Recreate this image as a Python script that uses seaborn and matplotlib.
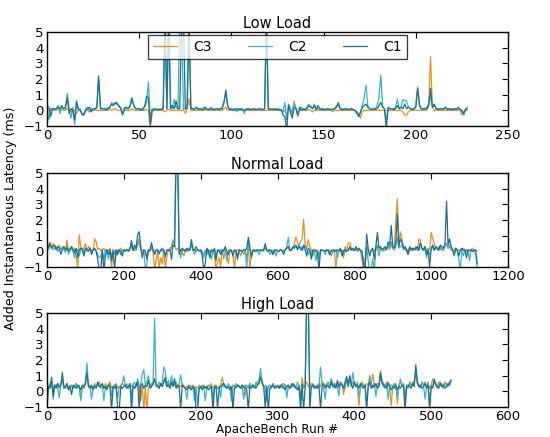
import numpy as np
import pandas as pd
import matplotlib
matplotlib.use("Agg")
import matplotlib.pyplot as plt
import seaborn as sns

# ---------------- data ----------------
series_names = ["C3", "C2", "C1"]
colors = {"C3": "#E8901E", "C2": "#3AB2CC", "C1": "#1B6F8C"}

# Low load: run # 0..228
low_x = list(range(229))
low_c1 = [0.3, 0.2, -0.4, 0.1, 0.1, 0.1, 0.2, 0.1, 0.3, 0.1,
          0.2, 0.8, -0.2, 0.1, 0.0, -0.6, 0.6, 0.1, 0.0, -0.2,
          -0.3, 0.0, 0.1, 0.2, -0.1, 0.1, 0.1, 0.2, 2.2, 0.1,
          0.1, 0.1, 0.0, 0.1, 0.2, 0.4, 0.3, 0.5, 0.4, 0.3,
          0.1, -0.3, 0.1, 0.2, 0.1, 0.3, 0.8, 0.3, 0.1, 0.1,
          0.1, 0.0, 0.1, 0.3, 0.9, 0.8, -0.9, 0.0, 0.05, 0.05,
          0.05, 0.05, 0.05, 0.1, 6.0, 0.1, 6.0, 0.1, 0.3, 0.1,
          0.6, 0.1, 0.1, 6.0, 6.0, 0.1, 0.1, 6.0, 0.1, 0.1,
          0.05, 0.2, 0.05, 0.1, 0.05, 0.05, 0.2, 0.05, 0.05, 0.1,
          0.05, 0.05, 0.1, 0.05, 0.1, 0.1, 0.5, 1.3, 0.3, 0.05,
          0.1, 0.0, 0.05, 0.1, 0.05, 0.1, 0.05, 0.0, 0.05, 0.1,
          0.05, 0.05, 0.1, 0.05, 0.05, 0.1, 0.05, 0.05, 0.1, 6.0,
          0.1, 0.05, 0.1, 0.05, 0.05, 0.1, 0.0, 0.05, -0.3, -0.4,
          -1.2, 0.3, -0.1, -0.5, 0.2, 0.1, -0.3, 0.2, 0.0, 0.1,
          0.05, 0.1, 0.3, 0.2, 0.1, 0.3, 0.05, 0.3, 0.1, 0.05,
          0.05, 0.05, 0.1, 0.05, 0.05, 0.05, 0.1, 0.2, 0.5, 0.1,
          0.05, 0.05, 0.1, 0.05, 0.05, 0.1, 0.05, 0.0, -0.2, -0.4,
          -0.1, 0.2, 0.3, 0.4, 0.2, 0.1, 0.05, 0.1, 0.05, 0.1,
          0.3, 0.5, 0.2, 0.1, -1.2, 0.2, 0.1, 0.1, 0.05, 0.1,
          0.3, 0.1, 0.2, 0.1, 0.4, 0.1, 0.2, 0.1, 0.05, 0.1,
          0.2, 1.4, 0.3, 0.1, 0.05, 0.1, 0.1, 0.3, 1.4, 0.2,
          0.4, 0.1, 0.1, 0.05, 0.1, 0.05, 0.2, 0.05, 0.1, 0.05,
          0.05, 0.1, 0.05, 0.2, 0.05, 0.0, -0.2, 0.05, 0.1]
low_c2 = [0.2, -0.6, 0.1, 0.1, 0.0, 0.1, 0.3, -0.2, 0.2, 0.1,
          0.1, 1.1, 0.1, -0.5, 0.2, -0.9, 0.4, 0.0, 0.1, -0.3,
          -0.2, 0.1, 0.2, -0.1, 0.1, 0.0, 0.1, 0.1, 2.0, 0.2,
          0.1, 0.1, 0.1, 0.2, 0.1, 0.5, 0.4, 0.4, 0.5, 0.2,
          0.2, -0.2, 0.2, 0.1, 0.1, 0.2, 0.6, 0.4, 0.1, 0.1,
          0.05, 0.1, 0.0, 0.2, 0.5, 1.8, -0.5, 0.1, 0.1, 0.1,
          0.05, 0.1, 0.05, 0.2, 6.0, 0.1, 6.0, 0.4, 0.1, 0.7,
          0.2, 0.1, 6.0, 6.0, 0.1, 0.1, 0.4, 6.0, 0.2, 0.1,
          0.1, 0.2, 0.1, 0.05, 0.1, 0.2, 0.1, 0.05, 0.1, 0.2,
          0.1, 0.05, 0.1, 0.1, 0.05, 0.2, 0.6, 1.1, 0.2, 0.1,
          0.05, 0.1, 0.1, -0.1, 0.1, 0.05, 0.1, -0.2, 0.1, 0.05,
          0.1, 0.05, 0.1, 0.1, 0.05, 0.1, 0.1, 0.05, 0.1, 6.0,
          0.1, 0.1, 0.05, 0.1, 0.1, 0.05, 0.1, 0.0, -0.1, 0.5,
          -0.6, 0.4, 0.1, -0.2, 0.4, 0.2, -0.4, 0.1, 0.2, 0.0,
          0.1, 0.2, 0.4, 0.3, 0.1, 0.4, 0.1, 0.1, 0.05, 0.1,
          0.1, 0.05, 0.1, 0.1, 0.05, 0.1, 0.1, 0.3, 0.3, 0.1,
          0.1, 0.05, 0.1, 0.1, 0.05, 0.1, 0.05, 0.0, -0.1, -0.3,
          -0.2, 0.3, 0.8, 1.6, 0.3, 0.1, 0.05, 0.1, 0.1, 0.3,
          0.8, 2.25, 0.3, 0.1, -0.6, 0.1, 0.1, 0.1, 0.1, 0.2,
          0.7, 0.1, 0.2, 0.7, 0.6, 0.6, 0.2, 0.1, 0.1, 0.05,
          0.3, 1.5, 0.4, 0.1, 0.1, 0.1, 0.2, 0.4, 0.9, 0.2,
          0.3, 0.1, 0.05, 0.1, 0.1, 0.1, 0.2, 0.1, 0.1, 0.1,
          0.1, 0.1, 0.05, 0.1, 0.1, -0.1, -0.3, 0.1, 0.2]
low_c3 = [0.0, 0.0, 0.1, 0.0, 0.05, 0.0, 0.1, 0.0, 0.05, 0.0,
          0.0, 0.1, 0.0, -0.1, 0.0, 0.0, -0.2, 0.0, 0.0, -0.3,
          -0.3, 0.0, 0.0, -0.1, 0.0, 0.0, 0.0, 0.0, 0.0, 0.0,
          0.0, 0.0, 0.0, 0.0, 0.1, 0.0, 0.05, 0.1, 0.0, 0.0,
          0.0, -0.2, 0.0, 0.0, 0.0, 0.0, 0.1, 0.0, 0.0, 0.0,
          0.0, 0.0, 0.0, 0.0, 0.05, 0.0, -1.2, -0.1, 0.0, 0.0,
          0.0, 0.0, 0.0, 0.0, -0.1, 0.0, 0.05, 0.0, 0.0, 0.0,
          0.0, 0.0, 0.0, 0.0, 0.05, -0.2, 0.1, 0.75, 0.0, 0.0,
          0.0, 0.0, 0.0, 0.0, 0.0, 0.0, 0.05, 0.0, 0.0, 0.0,
          0.0, 0.0, 0.0, 0.0, 0.0, 0.0, 0.1, 0.2, 0.0, 0.0,
          0.0, 0.0, 0.0, 0.0, 0.0, 0.0, 0.0, -0.05, 0.0, 0.0,
          0.0, 0.0, 0.0, 0.0, 0.0, 0.0, 0.0, 0.0, 0.0, 0.0,
          0.0, 0.0, 0.0, 0.0, 0.0, 0.0, 0.0, 0.0, -0.1, 0.0,
          -0.3, 0.2, 0.0, -0.1, 0.6, 0.1, -0.2, 0.0, 0.0, 0.0,
          0.0, 0.0, 0.05, 0.0, -0.1, 0.0, 0.0, 0.0, 0.0, 0.0,
          0.0, 0.0, 0.0, 0.0, 0.0, -0.1, 0.0, 0.0, 0.0, 0.0,
          0.0, 0.0, 0.0, 0.0, 0.0, 0.0, 0.0, 0.0, -0.1, -0.2,
          -0.5, -0.1, 0.0, 0.0, 0.0, 0.0, 0.0, 0.0, 0.0, 0.0,
          0.0, 0.0, 0.0, 0.0, 0.0, 0.0, 0.0, 0.0, 0.0, 0.0,
          0.0, 0.0, 0.0, -0.1, -0.3, -0.3, -0.1, 0.0, 0.0, 0.0,
          0.0, 0.0, 0.0, 0.0, 0.0, 0.0, 0.0, 0.3, 3.4, 0.2,
          0.0, 0.0, 0.0, 0.0, 0.0, 0.0, 0.0, 0.0, 0.0, 0.0,
          0.0, 0.0, 0.0, 0.0, 0.0, -0.3, -0.1, 0.0, 0.0]

# Normal load: run # 0..1120 (every 4th run)
normal_x = list(range(0, 1121, 4))
normal_c1 = [0.1, 0.3, 0.5, 0.2, 0.3, 0.4, 0.1, 0.3, 0.2, -0.2, 0.1, 0.3, 0.1, 0.2, 0.0, 0.1, 0.3, 0.1, -0.1, 0.2,
             -0.4, 0.1, 0.2, 0.1, -0.3, 0.2, 0.1, 0.0, 0.2, -0.2, 0.1, 0.2, 0.0, -0.5, -1.2, -1.2, 0.1, -1.2, -0.3, 0.1,
             -0.2, 0.1, -0.6, 0.0, -1.1, 0.1, -0.2, 0.1, 0.0, -0.3, 0.1, 0.05, 0.1, 0.0, 0.1, 0.7, 0.05, 0.4, 0.2, 1.1,
             1.25, 0.3, -0.4, 0.1, 0.0, -0.5, 0.1, 0.05, 0.55, 0.1, -0.2, 0.05, 0.1, -0.1, 0.05, 0.2, 0.05, -0.3, 0.1, 0.05,
             0.1, -0.5, 0.4, 0.3, 6.0, 6.0, -0.2, 0.05, 0.2, 0.1, 0.0, 0.2, 0.05, 0.1, 0.75, 0.1, 0.05, 0.3, 0.1, 0.05,
             0.05, -0.3, -1.1, -0.8, 0.2, 0.05, -0.4, 0.1, 0.0, 0.2, -0.6, 0.1, 0.05, -0.2, 0.1, 0.05, 0.3, 0.0, -0.2, 0.1,
             0.05, -0.3, 0.1, 0.05, -0.5, 0.1, 0.05, 0.0, 0.1, 0.05, 0.2, 0.9, 0.3, -0.4, 0.1, 0.05, 0.0, 0.1, 0.05, 0.1,
             0.05, 0.1, 0.5, 0.05, 0.0, 0.1, 0.05, -0.2, 0.05, 0.1, 0.05, 0.0, 0.1, 0.05, -0.2, 0.1, 0.2, 0.3, 0.05, 0.1,
             0.3, 0.2, 0.4, 0.1, 0.3, 0.2, 0.05, 0.4, 0.1, -0.3, 0.2, 0.1, -0.5, 0.05, 0.1, 0.05, -0.1, -1.2, 0.1, 0.05,
             0.05, 0.0, 0.1, 0.05, -0.2, 0.05, 0.1, 0.05, 0.0, 0.1, 0.05, 0.2, -0.3, 0.05, 0.1, 0.0, 0.05, 0.3, 0.1, 0.2,
             0.05, 0.3, 0.1, 0.2, 0.05, 0.0, -0.9, -1.2, 1.1, 0.2, -0.3, 0.05, 0.2, -0.5, 0.3, 1.2, 0.2, 0.3, 0.1, 0.2,
             0.3, 0.1, 0.6, 0.4, 1.65, 0.3, 0.2, 0.5, 2.4, 0.3, 0.8, 0.6, 0.2, 0.3, 0.1, -0.2, 0.3, 0.1, 0.2, 0.1,
             0.2, 0.3, 0.1, 0.5, 0.2, 0.1, 0.3, -0.2, 0.1, -1.0, 0.2, 0.4, 0.1, 0.3, 0.2, 0.1, 0.4, 0.3, 0.2, 0.5,
             3.2, 0.4, 0.8, 0.3, 0.1, -0.2, 0.2, 0.1, -0.3, 0.1, 0.2, 0.05, 0.1, -0.4, 0.1, 0.05, 0.1, 0.0, 0.1, 0.05,
             -0.8]
normal_c2 = [0.2, 0.1, 0.4, 0.3, 0.1, 0.2, 0.3, 0.0, 0.1, 0.2, 0.1, 0.2, -0.1, 0.4, -0.2, 0.1, 0.2, 0.0, -0.4, 0.1,
             0.1, -0.3, 0.1, 0.2, -0.1, 0.1, 0.0, 0.1, 0.2, -0.1, 0.1, 0.1, 0.0, -0.2, -0.4, -0.3, 0.0, -0.5, 0.1, 0.0,
             -0.5, 0.1, -0.3, 0.1, -0.2, 0.05, 0.0, 0.1, -0.2, 0.05, 0.1, 0.0, 0.1, 0.05, 0.2, 0.4, 0.1, 0.2, 0.05, 0.6,
             0.8, 0.1, -0.2, 0.05, -1.1, -0.8, 0.1, 0.0, 0.3, 0.05, 0.0, 0.1, 0.05, -0.2, 0.1, 0.0, 0.1, -0.4, 0.05, 0.1,
             0.05, 0.2, 0.6, 0.5, 6.0, 6.0, 0.1, -0.4, 0.1, 0.05, 0.1, 0.0, 0.1, 0.05, 0.5, 0.1, -0.2, 0.05, 0.1, 0.0,
             0.1, 0.0, -0.4, 0.05, -0.2, 0.1, 0.0, -0.5, 0.05, 0.1, -0.3, 0.05, 0.0, 0.1, -0.2, 0.05, 0.1, -0.6, 0.05, 0.0,
             0.1, -0.2, 0.05, 0.0, -0.3, 0.1, 0.05, 0.0, -0.2, 0.1, -1.1, 0.6, 0.1, -0.3, 0.05, 0.0, 0.1, 0.05, -0.2, 0.05,
             0.1, 0.0, 0.3, 0.05, 0.1, -0.2, 0.0, 0.05, 0.1, -0.3, 0.05, 0.0, 0.1, 0.05, 0.0, 0.1, 0.3, 0.9, 0.1, 0.05,
             0.2, 0.4, 0.3, 0.2, 0.5, 0.1, 0.3, 0.2, 0.4, 0.1, -0.2, 0.05, -0.3, 0.1, 0.0, -0.6, 0.05, -0.5, 0.0, 0.1,
             0.05, -0.2, 0.0, 0.1, 0.05, -0.3, 0.0, 0.05, 0.1, -0.4, 0.05, 0.0, 0.1, -0.2, 0.05, 0.0, 0.1, 0.2, 0.05, 0.1,
             0.1, 0.2, 0.0, 0.1, 0.05, -0.2, -0.5, -0.9, 0.3, -0.6, -1.2, -1.1, -0.5, -1.2, 0.1, 0.4, -0.3, 0.1, 0.2, 0.0,
             0.2, 0.1, 0.4, 0.2, 0.6, 0.2, 0.1, 0.3, 0.9, 0.2, 0.3, 0.4, 0.1, 0.2, 0.05, -0.2, 0.1, 0.2, 0.05, 0.1,
             0.1, 0.2, 0.05, 0.6, 0.1, 0.05, 0.2, -0.4, 0.05, -0.2, 0.1, 0.3, 0.05, 0.2, 0.1, 0.05, 0.3, 0.1, 0.05, 0.4,
             0.5, 0.2, 0.4, 0.1, 0.05, -0.3, 0.1, 0.05, -0.6, -1.1, 0.05, -0.3, 0.1, 0.0, 0.05, -0.6, 0.1, 0.0, 0.05, -0.2,
             -1.1]
normal_c3 = [0.1, 0.4, 0.6, 0.2, 0.5, 0.3, 0.1, 0.2, 0.4, 0.1, 0.3, 0.2, 0.1, 0.7, 0.1, 0.2, 0.3, 0.0, 0.2, -0.3,
             -1.1, 1.05, 0.3, 0.1, 0.2, 0.5, 0.1, 0.3, 0.2, 0.05, 0.1, 0.8, 0.6, 0.1, 0.2, 0.05, 0.1, 0.2, 0.0, 0.1,
             0.05, 0.2, -1.1, 0.1, 0.05, -0.3, 0.1, 0.0, 0.2, 0.05, 0.1, 0.0, 0.1, 0.05, 0.2, 0.3, 0.1, 0.05, 0.2, 0.4,
             0.6, 0.1, 0.05, 0.1, 0.0, -0.3, 0.1, 0.05, 0.2, 0.0, -1.1, -0.6, 0.05, -1.1, -0.4, -0.8, 0.1, -1.1, -0.3, 0.05,
             0.2, 0.3, 0.75, 0.4, 0.1, 0.2, 0.05, 0.1, 0.0, -0.3, 0.1, 0.05, 0.2, 0.1, 0.4, 0.05, 0.1, 0.0, 0.1, 0.05,
             0.1, 0.0, -0.3, 0.05, 0.1, -0.2, 0.05, 0.0, 0.1, -0.3, -1.1, -0.7, -0.4, -1.0, 0.1, -0.5, 0.05, -0.2, -0.8, 0.05,
             0.1, -0.2, -1.1, 0.05, 0.1, 0.0, -0.3, 0.05, 0.1, 0.0, -0.4, 0.3, -1.1, -0.2, 0.05, 0.1, 0.0, 0.05, 0.1, 0.0,
             0.05, 0.1, 0.2, 0.05, 0.0, 0.1, 0.05, -0.2, 0.05, 0.1, 0.0, 0.05, 0.1, 0.0, 0.05, 0.1, 0.2, 0.3, 0.05, 0.1,
             0.2, 0.5, 0.9, 0.6, 0.3, 0.6, 0.8, 2.05, 0.4, 0.2, 0.75, 0.3, 0.1, -0.3, 0.05, 0.0, 0.1, -0.2, 0.05, 0.1,
             0.05, 0.0, 0.1, 0.05, -0.2, 0.05, 0.0, 0.1, -1.1, 0.05, 0.0, 0.1, 0.05, -0.4, 0.3, 0.05, 0.5, 0.55, 0.2, 0.1,
             0.05, 0.1, 0.0, 0.05, 0.1, -0.6, -1.1, -0.4, 0.3, 0.05, -0.2, 0.1, 0.05, 0.0, 0.2, 0.1, 0.05, 0.2, 0.1, 0.05,
             0.1, 0.2, 0.3, 0.1, 0.4, 0.2, 0.3, 2.0, 3.35, 0.4, 1.25, 0.8, 0.2, 0.1, 0.05, 0.1, 0.2, 0.05, 0.1, 0.2,
             0.3, 0.05, 0.8, 0.7, 0.2, 0.1, 0.3, 0.05, 0.2, 0.1, 1.2, 0.8, 0.5, 0.2, 0.1, 0.3, 0.1, 0.2, 0.1, 0.3,
             0.4, 0.2, 0.3, 0.1, 0.05, 0.1, 0.2, 0.05, 0.1, 0.0, 0.1, 0.2, 0.05, 0.1, 0.0, 0.05, 0.1, 0.2, 0.05, 0.1,
             0.0]

# High load: run # 0..526 (every 2nd run)
high_x = list(range(0, 527, 2))
high_c1 = [-1.2, 0.3, 0.2, 0.9, -0.3, 0.4, 0.2, 0.5, 0.3, 0.4, 1.2, 0.2, 0.3, 0.5, 0.1, 0.3, -0.2, 0.4, 0.3, 0.2, 0.4, 0.3, 0.1, 0.4, 0.3,
           0.5, 1.2, 0.3, 0.2, 0.4, 0.1, 0.3, 0.2, 0.6, 0.3, 0.4, 0.5, 0.2, 0.3, 0.1, 0.4, 0.3, -1.2, 0.3, 0.2, 0.4, -1.2, -1.2, 0.3, 0.2,
           0.3, 0.4, 0.2, 0.3, 0.5, -1.2, 0.3, 0.2, 0.4, 0.6, -1.1, 0.3, 0.5, 0.2, 0.4, 0.3, 0.7, 0.2, 0.3, 0.5, 0.8, 0.4, 0.3, 0.2, 0.5,
           0.3, 0.6, 0.9, 0.3, 0.4, 0.2, 0.6, 0.3, 0.8, 0.2, 0.4, 0.3, -1.2, 0.4, 0.3, 0.2, 0.1, 0.3, 0.2, 0.1, 0.3, 0.2, -1.2, -1.2, 0.2,
           0.3, 0.1, 0.3, 0.2, 0.3, 0.1, 0.2, 0.3, -1.2, 0.2, 0.3, -1.1, 0.2, 0.3, 0.4, 0.5, 0.3, 0.2, 0.3, 0.1, 0.3, -1.2, 0.2, 0.3, 0.4,
           0.3, 0.2, 0.4, 0.3, 0.2, 0.1, -1.2, 0.3, 0.2, 0.4, 0.3, 0.2, 0.4, 0.5, 0.9, 0.6, 0.3, -1.0, 0.3, -1.2, 0.2, 0.3, 0.4, 0.2, 0.3,
           0.3, 0.2, 0.4, 0.3, 0.2, 0.1, 0.3, 0.4, 0.2, 0.3, 0.5, 0.3, 0.2, 0.1, 0.3, -1.2, 0.4, -1.2, 0.3, 6.0, 6.0, -1.2, 0.3, 0.4, 0.2,
           0.3, 0.2, 0.4, -1.2, 0.3, 0.5, 0.2, 0.4, 0.3, 0.2, 0.6, 0.3, 0.4, 0.2, 0.7, 0.3, 0.5, 0.4, 0.2, 0.6, 0.95, 0.3, 1.0, 0.4, 0.2,
           0.6, 0.3, 0.4, 0.2, 0.5, 0.3, 0.2, 0.4, -1.2, 0.3, 0.6, 0.2, 0.4, 0.3, 0.5, 0.2, 0.3, 1.2, 0.6, 0.4, 0.3, 0.2, 0.5, 0.3, 0.1,
           0.3, 0.2, 0.4, 0.1, 0.3, 0.2, 0.4, 0.3, -1.2, 0.2, 0.4, 0.3, 0.2, 0.5, 0.3, 1.7, 0.6, 0.3, 0.4, 0.2, 0.3, 0.5, 0.2, 0.4, -1.2,
           0.3, 0.2, 0.7, 0.4, 0.3, 0.2, 0.5, 0.3, 0.4, 0.2, 0.3, 0.5, 0.4, 0.7]
high_c2 = [0.4, 0.1, 0.5, 0.6, -0.5, 0.3, 0.4, 0.2, -0.4, 0.4, 0.8, 0.3, 0.2, 0.4, 0.1, 0.3, 0.4, 0.2, 0.3, 0.5, 0.2, 0.3, -0.6, 0.4, 0.2,
           0.6, 1.8, 0.4, 0.3, -0.5, 0.2, 0.4, 0.3, 0.5, 0.3, 0.2, 0.4, -0.6, 0.3, 0.2, 0.5, 0.4, -0.3, 0.3, 0.4, 0.2, -0.4, 0.3, 0.2, 0.5,
           1.0, 0.3, 0.4, 0.2, 0.5, -0.3, 0.4, 0.6, 0.3, 0.8, 0.2, 0.5, 1.1, 1.4, 0.4, 0.6, 1.0, 0.3, 0.5, 0.4, 4.65, 0.5, 0.3, 0.6, 0.4,
           0.5, 1.55, 1.3, 0.4, 0.7, 0.3, 1.0, 0.5, 0.4, 0.6, 0.3, 0.5, 1.05, 0.4, 0.3, 0.2, -0.5, 0.3, 0.4, 0.2, 0.3, -0.6, 0.2, -0.8, 0.3,
           0.2, 0.4, 0.3, -0.6, 0.2, 0.4, 0.3, 0.2, -0.5, 0.4, 0.3, 0.2, 0.3, -0.4, 0.5, 0.3, 0.4, 0.2, 0.5, 0.3, -0.6, 0.3, 0.4, 0.2, 0.3,
           0.4, 0.2, 0.3, -0.5, 0.4, 0.3, 0.2, 0.5, 0.3, 0.4, 0.2, 0.6, 0.5, 0.8, 1.45, 0.5, 0.3, 0.2, -0.6, 0.3, 0.4, 0.2, 0.5, 0.3, 0.2,
           0.4, 0.2, 0.3, 0.5, 0.2, 0.4, -0.4, 0.3, 0.2, 0.5, 0.3, 0.4, 0.2, 0.6, 0.3, -0.5, 0.5, 0.2, 0.4, 6.0, 6.0, 0.3, 0.2, 0.5, 0.3,
           0.2, 0.4, 0.3, 1.55, 0.5, 0.2, -0.5, 0.4, 0.6, 0.3, 0.8, 0.4, 0.2, 0.5, 0.3, -0.3, 0.6, 0.4, 0.3, 0.2, 0.7, 0.5, 0.9, 0.4, 1.2,
           0.5, 0.3, 0.6, -0.4, 0.2, 0.5, 0.3, 0.4, -0.8, 0.3, 1.0, 0.4, 0.2, 0.5, -0.3, 0.3, 0.4, 0.9, 0.5, 0.3, 0.2, 0.6, -0.5, 0.3, 0.4,
           0.3, 0.5, 0.2, -0.4, 0.3, 0.8, 0.3, 0.5, -0.6, 0.4, 0.2, 0.6, 0.3, 0.4, 0.7, 1.4, 0.5, 0.3, 0.2, 0.6, 0.4, -0.5, 0.3, 0.6, -0.8,
           0.4, 0.3, 0.8, 0.5, 0.2, 0.4, 0.6, 0.3, 0.2, 0.5, 0.4, 0.3, 0.6, 0.7]
high_c3 = [0.75, 0.2, 0.3, 0.6, 0.1, 0.4, 0.3, 0.5, 0.2, 0.4, 0.9, 0.3, 0.2, 0.5, 0.2, 0.4, 0.3, 0.2, 0.4, 0.5, 0.3, 0.4, -0.5, 0.3, 0.2,
           0.5, 1.1, 0.3, 0.4, 0.2, 0.3, 0.5, 0.3, 0.4, 0.6, 0.3, 0.4, 0.2, 0.5, 0.3, 0.4, 0.6, 0.2, 0.3, 0.4, 0.5, 0.2, 0.3, 0.4, 0.5,
           0.4, 0.3, 0.5, 0.2, 0.4, 0.3, 0.5, 0.2, 0.3, 0.6, 0.2, -0.6, 0.4, -1.2, 0.3, -1.2, 0.2, 0.4, 0.3, 0.5, 0.8, 0.3, 0.4, 0.2, 0.5,
           0.4, 0.7, 0.6, 0.3, 0.5, 0.2, 0.6, 0.4, 0.5, 0.3, 0.2, 0.4, 0.3, 0.5, 0.3, 0.2, 0.3, 0.4, 0.2, 0.3, 0.4, 0.2, 0.3, 0.2, 0.4,
           0.3, 0.2, 0.4, 0.3, 0.2, 0.4, 0.3, 0.5, 0.2, 0.3, 0.4, 0.2, 0.3, 0.4, 0.9, 0.5, 0.3, 0.2, 0.4, 0.3, 0.2, 0.4, 0.3, 0.5, 0.4,
           0.3, 0.2, 0.4, 0.3, -0.3, 0.4, 0.3, 0.5, 0.3, 0.4, 0.2, 0.5, 0.4, 0.6, 1.0, 0.5, 0.3, 0.4, 0.2, 0.3, 0.4, 0.2, 0.5, 0.3, 0.4,
           0.3, 0.4, 0.2, 0.3, 0.5, 0.4, 0.3, 0.4, 0.2, 0.3, 0.5, 0.4, 0.3, 0.2, 0.4, -0.4, 0.9, 0.3, 0.4, 0.6, 0.3, 0.4, 0.5, 0.3, 0.4,
           0.3, 0.4, 0.5, 0.3, 0.6, 0.4, 0.3, 0.5, 0.4, 0.3, 0.8, 0.4, 0.5, 0.3, 0.4, 0.2, 0.6, 0.5, -0.2, 0.4, 0.8, 0.5, 0.7, 0.3, 0.6,
           0.5, 0.4, 0.3, -0.9, 0.3, 0.6, 0.4, 0.3, 0.5, 0.4, 0.7, 0.5, 1.1, 0.4, 0.3, 0.5, 0.4, 1.3, 0.7, 0.5, 0.4, 0.3, 0.6, 0.4, -0.9,
           0.3, 0.4, 0.5, -0.8, 0.4, 0.6, 0.3, 0.5, -0.4, 0.4, 0.3, 0.5, 0.4, 0.6, 0.5, 1.2, 0.6, 0.4, 0.3, 0.5, 0.4, 0.6, 0.3, 0.5, 0.2,
           0.4, 0.8, 0.6, 0.5, 0.3, 0.6, 0.4, 0.5, 0.3, 0.6, 0.5, 0.4, 0.6, 0.75]

titles = ["Low Load", "Normal Load", "High Load"]
xlims = [250, 1200, 600]
xsteps = [50, 200, 100]
yticks = [-1, 0, 1, 2, 3, 4, 5]

panels = [
    (low_x, {"C3": low_c3, "C2": low_c2, "C1": low_c1}),
    (normal_x, {"C3": normal_c3, "C2": normal_c2, "C1": normal_c1}),
    (high_x, {"C3": high_c3, "C2": high_c2, "C1": high_c1}),
]

# ---------------- style ----------------
sns.set_theme(style="white")
plt.rcParams.update({
    "font.family": ["DejaVu Sans"],
    "axes.edgecolor": "black",
    "axes.linewidth": 1.0,
    "xtick.direction": "in",
    "ytick.direction": "in",
    "xtick.top": True,
    "ytick.right": True,
    "xtick.color": "black",
    "ytick.color": "black",
    "text.color": "black",
    "axes.labelcolor": "black",
})

fig = plt.figure(figsize=(5.5, 4.37), dpi=100)
W, H = 550.0, 437.0
left, right = 47 / W, 508 / W
tops = [32, 173, 313]
height_px = 94

for i, (xs, ser) in enumerate(panels):
    t = tops[i]
    ax = fig.add_axes([left, 1 - (t + height_px) / H, right - left, height_px / H])
    for name in series_names:
        sns.lineplot(x=xs, y=ser[name], ax=ax, color=colors[name], linewidth=0.9,
                     label=name if i == 0 else None, legend=False, estimator=None,
                     sort=False)
    ax.set_xlim(0, xlims[i])
    ax.set_ylim(-1, 5)
    ax.set_xticks(list(range(0, xlims[i] + 1, xsteps[i])))
    ax.set_yticks(yticks)
    ax.tick_params(axis="both", which="major", length=4, width=0.8, labelsize=9.5, pad=2.5)
    ax.set_xlabel("")
    ax.set_ylabel("")
    ax.set_title(titles[i], fontsize=10.5, pad=3)
    for s in ax.spines.values():
        s.set_visible(True)
        s.set_color("black")
    if i == 0:
        leg = ax.legend(loc="upper center", ncol=3, fontsize=10, frameon=True,
                        fancybox=False, borderaxespad=0.25, columnspacing=2.6,
                        handlelength=1.7, handletextpad=1.2, borderpad=0.35)
        leg.get_frame().set_edgecolor("black")
        leg.get_frame().set_linewidth(0.9)
        for line in leg.get_lines():
            line.set_linewidth(0.9)

fig.text(0.02, 0.5, "Added Instantaneous Latency (ms)", rotation=90,
         ha="center", va="center", fontsize=9.2)
fig.text((left + right) / 2, 0.5 / H, "ApacheBench Run #", ha="center",
         va="bottom", fontsize=8.6)

fig.savefig("out.png", dpi=100, facecolor="white")
